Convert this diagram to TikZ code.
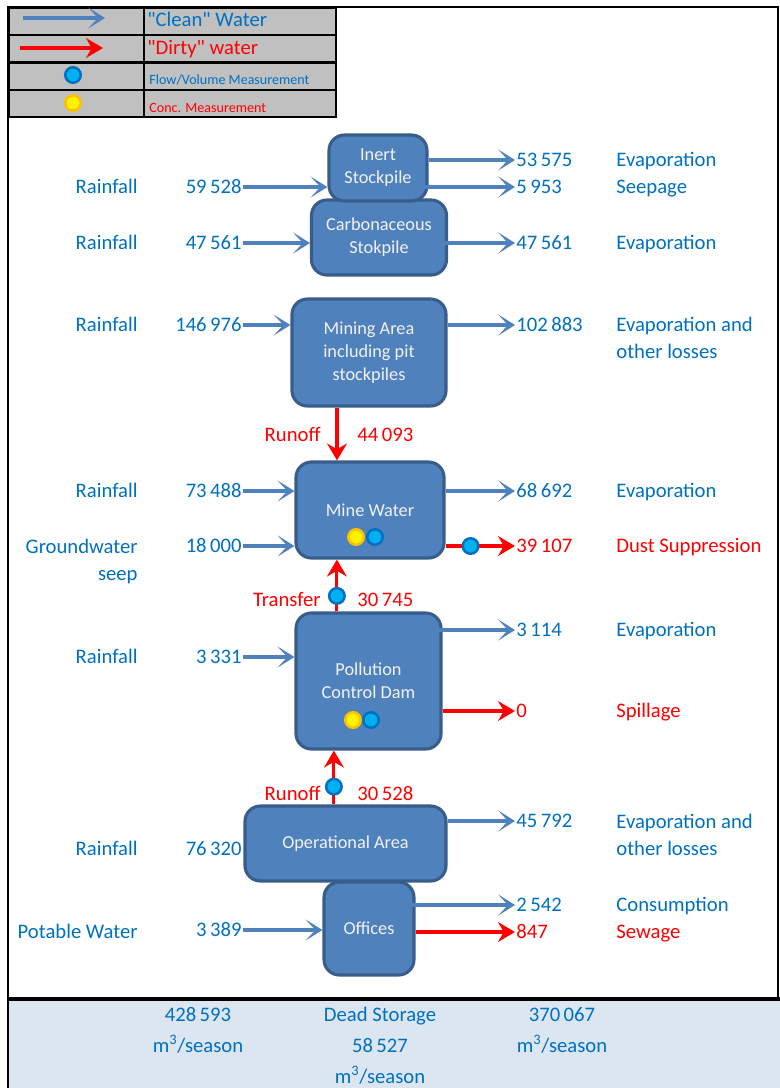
\documentclass[tikz,border=0pt]{standalone}
\usepackage{fontspec}
\setmainfont{Carlito}
\usetikzlibrary{arrows.meta, positioning, calc}
\definecolor{boxfill}{HTML}{4F81BD}
\definecolor{boxline}{HTML}{385D8A}
\definecolor{txtblue}{HTML}{0070C0}
\definecolor{legendgray}{HTML}{C0C0C0}
\definecolor{bandfill}{HTML}{DCE6F1}
\definecolor{ptblue}{HTML}{00B0F0}
\definecolor{ptorange}{HTML}{FFC000}

\begin{document}
\begin{tikzpicture}[
  x=0.025cm, y=-0.025cm,
  area/.style={draw=boxline, line width=2.2pt, fill=boxfill, rounded corners=11pt, text=white!95!black, align=center, font=\fontsize{13}{16.3}\selectfont, inner sep=0pt},
  clean/.style={draw=boxfill, line width=2.2pt, -{Stealth[length=12pt, width=15pt, inset=7pt]}},
  dirty/.style={draw=red, line width=2.2pt, -{Stealth[length=12pt, width=14pt, inset=4pt]}},
  lab/.style={text=txtblue, font=\fontsize{14.7}{19.2}\selectfont, inner sep=0.8pt, text height=0.95em, text depth=0.06em},
  labr/.style={lab, text=red},
  cell/.style={draw, line width=1.4pt, fill=legendgray, minimum height=0.675cm, inner sep=0pt},
  flowpt/.style={circle, draw=txtblue, fill=ptblue, line width=1.8pt, minimum size=11pt, inner sep=0pt},
  concpt/.style={circle, draw=ptorange, fill=yellow, line width=1.8pt, minimum size=11pt, inner sep=0pt}
]
\useasboundingbox (0,0) rectangle (780,1088);

% frame and bottom band
\draw[line width=1.4pt] (8,7) rectangle (778,999);
\fill[bandfill] (8,999) rectangle (780,1088);
\draw[line width=1.4pt] (8,999) -- (8,1088);
\draw[line width=2.2pt] (8,999) -- (780,999);

% legend
\node[cell, anchor=north west, minimum width=3.375cm] (lg1a) at (8,7) {};
\node[cell, anchor=north west, minimum width=4.8cm] (lg1b) at (143,7) {};
\node[cell, anchor=north west, minimum width=3.375cm] (lg2a) at (8,34) {};
\node[cell, anchor=north west, minimum width=4.8cm] (lg2b) at (143,34) {};
\node[cell, anchor=north west, minimum width=3.375cm] (lg3a) at (8,62) {};
\node[cell, anchor=north west, minimum width=4.8cm] (lg3b) at (143,62) {};
\node[cell, anchor=north west, minimum width=3.375cm] (lg4a) at (8,89) {};
\node[cell, anchor=north west, minimum width=4.8cm] (lg4b) at (143,89) {};
\coordinate (lgc1) at (23,18);
\coordinate (lgc2) at (105,18);
\coordinate (lgd1) at (20,48);
\coordinate (lgd2) at (103,48);
\draw[clean] (lgc1) -- (lgc2);
\draw[dirty] (lgd1) -- (lgd2);
\node[flowpt] (lgflow) at (73,75) {};
\node[concpt] (lgconc) at (73,103) {};
\node[lab, anchor=west] (lgclean) at (146,20) {\textquotedbl Clean\textquotedbl{} Water};
\node[labr, anchor=west] (lgdirty) at (146,48) {\textquotedbl Dirty\textquotedbl{} water};
\node[lab, anchor=west, font=\fontsize{10}{12}\selectfont] (lgflowt) at (148,78) {Flow/Volume Measurement};
\node[labr, anchor=west, font=\fontsize{10}{12}\selectfont] (lgconct) at (148,106) {Conc. Measurement};

% areas
\node[area, minimum width=3.375cm, minimum height=1.875cm] (carb) at (379,237.5) {Carbonaceous\\Stokpile};
\node[area, minimum width=2.45cm, minimum height=1.65cm] (inert) at (378,168) {Inert\\Stockpile};
\node[area, minimum width=3.85cm, minimum height=2.675cm] (mining) at (369,352.5) {Mining Area\\including pit\\stockpiles};
\node[area, minimum width=3.7cm, minimum height=2.4cm] (minew) at (370,510) {Mine Water};
\node[area, minimum width=3.625cm, minimum height=3.4cm] (pcd) at (368.5,681) {Pollution\\Control Dam};
\node[area, minimum width=5.025cm, minimum height=1.875cm] (opsarea) at (345.5,843.5) {Operational Area};
\node[area, minimum width=2.25cm, minimum height=2.325cm] (offices) at (369,928.5) {Offices};
\node[concpt] (mwconc) at (356,537) {};
\node[flowpt] (mwflow) at (375,537) {};
\node[concpt] (pcdconc) at (353,720) {};
\node[flowpt] (pcdflow) at (371,720) {};

% inflows
\node[lab, anchor=east] (rfA) at (139,187) {Rainfall};
\node[lab, anchor=east] (inA) at (243,187) {59\,528};
\node[lab, anchor=east] (rfB) at (139,243) {Rainfall};
\node[lab, anchor=east] (inB) at (243,243) {47\,561};
\node[lab, anchor=east] (rfC) at (139,325) {Rainfall};
\node[lab, anchor=east] (inC) at (243,325) {146\,976};
\node[lab, anchor=east] (rfD) at (139,491) {Rainfall};
\node[lab, anchor=east] (inD) at (243,491) {73\,488};
\node[lab, anchor=east, align=right] (gw) at (139,574) {Groundwater\\seep};
\node[lab, anchor=east] (inE) at (243,546) {18\,000};
\node[lab, anchor=east] (rfE) at (139,657) {Rainfall};
\node[lab, anchor=east] (inF) at (243,657) {3\,331};
\node[lab, anchor=east] (rfF) at (139,849) {Rainfall};
\node[lab, anchor=east] (inG) at (243,849) {76\,320};
\node[lab, anchor=east] (pw) at (139,932) {Potable Water};
\node[lab, anchor=east] (inH) at (243,930) {3\,389};

% outflows
\node[lab, anchor=west] (outA) at (515,160) {53\,575};
\node[lab, anchor=west] (dsA) at (615,160) {Evaporation};
\node[lab, anchor=west] (outB) at (515,187) {5\,953};
\node[lab, anchor=west] (dsB) at (615,187) {Seepage};
\node[lab, anchor=west] (outC) at (515,243) {47\,561};
\node[lab, anchor=west] (dsC) at (615,243) {Evaporation};
\node[lab, anchor=west] (outD) at (515,325) {102\,883};
\node[lab, anchor=west, align=left] (dsD) at (615,352) {Evaporation and\\other losses};
\node[lab, anchor=west] (outE) at (515,491) {68\,692};
\node[lab, anchor=west] (dsE) at (615,491) {Evaporation};
\node[labr, anchor=west] (outF) at (515,546) {39\,107};
\node[labr, anchor=west] (dsF) at (615,546) {Dust Suppression};
\node[lab, anchor=west] (outG) at (515,630) {3\,114};
\node[lab, anchor=west] (dsG) at (615,630) {Evaporation};
\node[labr, anchor=west] (outH) at (515,711) {0};
\node[labr, anchor=west] (dsH) at (615,711) {Spillage};
\node[lab, anchor=west] (outI) at (515,821) {45\,792};
\node[lab, anchor=west, align=left] (dsI) at (615,849) {Evaporation and\\other losses};
\node[lab, anchor=west] (outJ) at (515,905) {2\,542};
\node[lab, anchor=west] (dsJ) at (615,905) {Consumption};
\node[labr, anchor=west] (outK) at (515,932) {847};
\node[labr, anchor=west] (dsK) at (615,932) {Sewage};

% transfers between areas
\node[labr, anchor=east] (roA) at (322,435) {Runoff};
\node[labr, anchor=west] (roAv) at (356,435) {44\,093};
\node[labr, anchor=east] (trB) at (322,600) {Transfer};
\node[labr, anchor=west] (trBv) at (356,600) {30\,745};
\node[labr, anchor=east] (roC) at (322,794) {Runoff};
\node[labr, anchor=west] (roCv) at (356,794) {30\,528};

\draw[clean] (inA.east) -- (inA.east -| inert.west);
\draw[clean] (inB.east) -- (inB.east -| carb.west);
\draw[clean] (inC.east) -- (inC.east -| mining.west);
\draw[clean] (inD.east) -- (inD.east -| minew.west);
\draw[clean] (inE.east) -- (inE.east -| minew.west);
\draw[clean] (inF.east) -- (inF.east -| pcd.west);
\draw[clean] (inH.east) -- (inH.east -| offices.west);

\draw[clean] (inert.east |- outA.west) -- (outA.west);
\draw[clean] ([xshift=-0.125cm]inert.east |- outB.west) -- (outB.west);
\draw[clean] ([xshift=-0.35cm]carb.east |- outC.west) -- (outC.west);
\draw[clean] (mining.east |- outD.west) -- (outD.west);
\draw[clean] (minew.east |- outE.west) -- (outE.west);
\draw[dirty] (minew.east |- outF.west) -- node[flowpt, pos=0.36] (dustflow) {} (outF.west);
\draw[clean] ([xshift=-0.25cm]pcd.east |- outG.west) -- (outG.west);
\draw[dirty] (pcd.east |- outH.west) -- (outH.west);
\draw[clean] (opsarea.east |- outI.west) -- (outI.west);
\draw[clean] ([xshift=-0.85cm]offices.east |- outJ.west) -- (outJ.west);
\draw[dirty] (offices.east |- outK.west) -- (outK.west);

\draw[dirty] ([xshift=-0.8cm]mining.south) -- ([xshift=-0.8cm]mining.south |- minew.north);
\draw[dirty] ([xshift=-0.79cm]pcd.north) -- node[flowpt, pos=0.3] (trflow) {} ([xshift=-0.79cm]pcd.north |- minew.south);
\draw[dirty] ([xshift=-0.29cm]opsarea.north) -- node[flowpt, pos=0.33] (roflow) {} ([xshift=-0.29cm]opsarea.north |- pcd.south);

% totals
\node[lab] (totin) at (198,1015) {428\,593};
\node[lab] (totinu) at (198,1046) {m\textsuperscript{3}/season};
\node[lab] (dead) at (380,1015) {Dead Storage};
\node[lab] (deadv) at (380,1046) {58\,527};
\node[lab] (deadu) at (380,1077) {m\textsuperscript{3}/season};
\node[lab] (totout) at (562,1015) {370\,067};
\node[lab] (totoutu) at (562,1046) {m\textsuperscript{3}/season};
\end{tikzpicture}
\end{document}
